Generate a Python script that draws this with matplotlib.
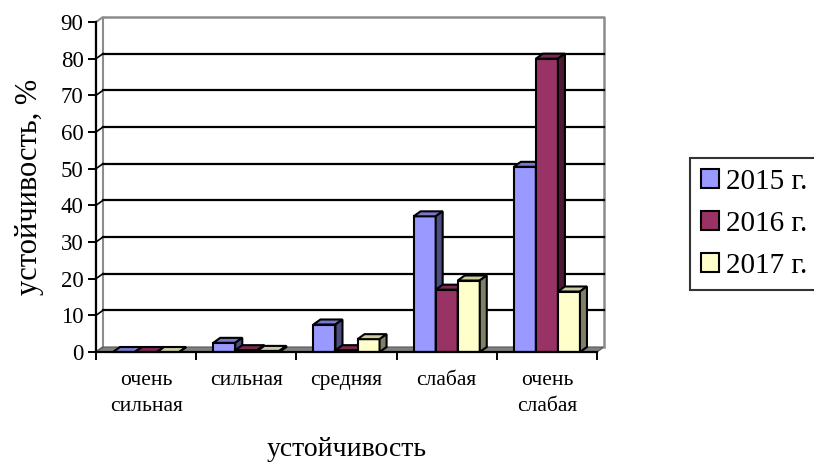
import numpy as np
import matplotlib
matplotlib.use("Agg")
import matplotlib.pyplot as plt
from matplotlib.patches import Polygon, Patch

# Data
categories = ["очень\nсильная", "сильная", "средняя", "слабая", "очень\nслабая"]
years = ["2015 г.", "2016 г.", "2017 г."]
v2015 = [0, 2.5, 7.5, 37, 50.5]
v2016 = [0, 0.5, 0.5, 17, 80]
v2017 = [0, 0.3, 3.5, 19.5, 16.5]
series = [v2015, v2016, v2017]

front_cols = ["#9999FF", "#993366", "#FFFFCC"]
top_cols = ["#7777cc", "#7a2952", "#ccccA3"]
side_cols = ["#4d4d80", "#4d1a33", "#808066"]

plt.rcParams["font.family"] = ["Liberation Serif", "DejaVu Serif"]

fig = plt.figure(figsize=(8.14, 4.63), dpi=100)
ax = fig.add_axes([96 / 814, 111 / 463, 501 / 814, 330 / 463])
ax.set_xlim(0, 5)
ax.set_ylim(0, 90)

# 3D depth offsets in data units
dx = 7 / 100.2
dy = 5 / (330 / 90)

# walls and floor
ax.add_patch(Polygon([(0, 0), (dx, dy), (dx, 90 + dy), (0, 90)], closed=True,
                     facecolor="white", edgecolor="#8c8c8c", lw=1.5, clip_on=False, zorder=1))
ax.add_patch(Polygon([(0, 0), (5, 0), (5 + dx, dy), (dx, dy)], closed=True,
                     facecolor="#808080", edgecolor="#555555", lw=0.8, clip_on=False, zorder=1))
ax.plot([5 + dx, 5 + dx, dx], [dy, 90 + dy, 90 + dy], color="#8c8c8c", lw=1.8, clip_on=False, zorder=1)
for v in np.arange(10, 81, 10):
    ax.plot([dx, 5 + dx], [v + dy, v + dy], color="black", lw=1.6, clip_on=False, zorder=1.5)
    ax.plot([0, dx], [v, v + dy], color="black", lw=1.2, clip_on=False, zorder=1.5)

# bars
width = 0.22
offset = 0.17
for j, vals in enumerate(series):
    for i, v in enumerate(vals):
        x0 = i + offset + j * width
        z = 3 + j
        ax.bar(x0, v, width=width, align="edge", color=front_cols[j],
               edgecolor="black", lw=1.5, zorder=z)
        ax.add_patch(Polygon([(x0, v), (x0 + width, v), (x0 + width + dx, v + dy), (x0 + dx, v + dy)],
                             closed=True, facecolor=top_cols[j], edgecolor="black", lw=1.5,
                             zorder=z, clip_on=False))
        ax.add_patch(Polygon([(x0 + width, 0), (x0 + width + dx, dy), (x0 + width + dx, v + dy), (x0 + width, v)],
                             closed=True, facecolor=side_cols[j], edgecolor="black", lw=1.5,
                             zorder=z, clip_on=False))

# axes styling
for s in ["top", "right"]:
    ax.spines[s].set_visible(False)
ax.spines["left"].set_linewidth(1.6)
ax.spines["bottom"].set_linewidth(1.6)
ax.spines["left"].set_zorder(10)
ax.spines["bottom"].set_zorder(10)
ax.set_yticks(np.arange(0, 91, 10))
ax.tick_params(axis="y", direction="out", length=6, width=1.4, labelsize=16.5, pad=3)
ax.set_xticks(np.arange(0, 6, 1))
ax.set_xticklabels([])
ax.tick_params(axis="x", direction="out", length=6, width=1.4)
ax.set_xticks(np.arange(5) + 0.5, minor=True)
ax.set_xticklabels(categories, minor=True, fontsize=15.5, linespacing=1.45, va="top")
ax.tick_params(axis="x", which="minor", length=0, pad=14)

ax.set_ylabel("устойчивость, %", fontsize=22, labelpad=12)
fig.text((96 + 597) / 2 / 814, 7 / 463, "устойчивость", fontsize=20,
         ha="center", va="baseline")

handles = [Patch(facecolor=c, edgecolor="black", lw=1.5) for c in front_cols]
leg = fig.legend(handles, years, loc="upper left", bbox_to_anchor=(690 / 814, 1 - 158 / 463),
                 fontsize=21, frameon=True, fancybox=False, edgecolor="black",
                 handlelength=0.62, handleheight=0.62, handletextpad=0.25, borderpad=0.38,
                 labelspacing=0.55, borderaxespad=0)
leg.get_frame().set_linewidth(1.5)

fig.savefig("out.png", dpi=100)
